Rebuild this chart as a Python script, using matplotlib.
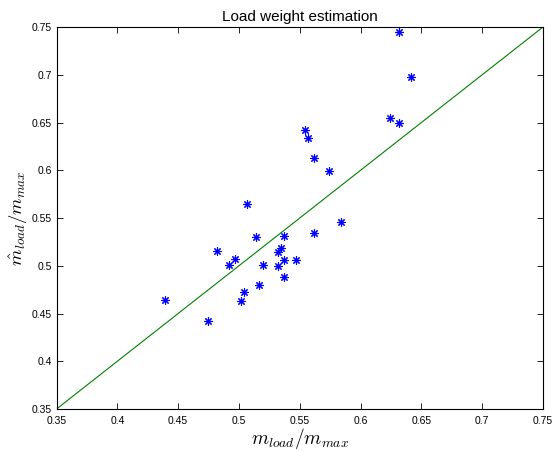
import matplotlib
matplotlib.use('Agg')
import matplotlib.pyplot as plt
import numpy as np

plt.rcParams['font.family'] = ['Liberation Sans', 'DejaVu Sans']
plt.rcParams['mathtext.fontset'] = 'cm'

# measured vs estimated load weight (normalised)
m_load = [0.4395, 0.4746, 0.482, 0.4919, 0.497, 0.502, 0.5044, 0.5069,
          0.5143, 0.5168, 0.5196, 0.5319, 0.5319, 0.5349, 0.5371, 0.5371,
          0.5371, 0.547, 0.5544, 0.5571, 0.5618, 0.5618, 0.5743, 0.5842,
          0.6243, 0.6319, 0.6319, 0.6418]
m_hat = [0.4641, 0.4418, 0.5154, 0.5008, 0.5068, 0.4628, 0.4725, 0.5643,
         0.5304, 0.4802, 0.5005, 0.5141, 0.4994, 0.5183, 0.5312, 0.5057,
         0.4879, 0.5057, 0.6421, 0.6341, 0.6125, 0.5348, 0.5992, 0.5455,
         0.6547, 0.6495, 0.7451, 0.698]
lims = [0.35, 0.75]
ticks = [0.35, 0.4, 0.45, 0.5, 0.55, 0.6, 0.65, 0.7, 0.75]
tick_labels = ['0.35', '0.4', '0.45', '0.5', '0.55', '0.6', '0.65', '0.7', '0.75']

fig = plt.figure(figsize=(5.52, 4.51), dpi=100)
ax = fig.add_axes([0.1024, 0.0931, 0.8813, 0.847])

# matlab style asterisk marker
ax.plot(m_load, m_hat, linestyle='none', marker=(8, 2, 0), color='blue',
        markersize=6, markeredgewidth=0.8)
ax.plot(lims, lims, '-', color='#008000', linewidth=0.8)

ax.set_xlim(lims)
ax.set_ylim(lims)
ax.set_xticks(ticks)
ax.set_xticklabels(tick_labels)
ax.set_yticks(ticks)
ax.set_yticklabels(tick_labels)
ax.tick_params(direction='in', top=True, right=True, labelsize=7.5, length=4, width=0.6)
ax.tick_params(axis='x', pad=5)
for s in ax.spines.values():
    s.set_linewidth(0.8)

ax.set_title('Load weight estimation', fontsize=11, pad=4)
ax.set_xlabel(r'$m_{load}/m_{max}$', fontsize=14, labelpad=0)
ax.set_ylabel(r'$\hat{m}_{load}/m_{max}$', fontsize=13.5, labelpad=1)

plt.savefig('out.png', dpi=100)
